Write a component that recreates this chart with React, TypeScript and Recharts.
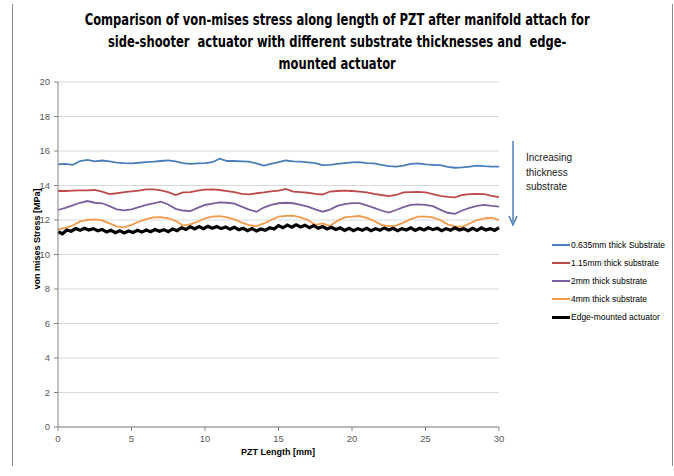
import { LineChart, Line, XAxis, YAxis, CartesianGrid } from "recharts"

// positions along the PZT in mm (0.5 mm steps for the substrate runs)
const xMm = [
  0, 0.5, 1, 1.5, 2, 2.5, 3, 3.5, 4, 4.5, 5, 5.5, 6, 6.5, 7, 7.5, 8, 8.5, 9, 9.5,
  10, 10.5, 11, 11.5, 12, 12.5, 13, 13.5, 14, 14.5, 15, 15.5, 16, 16.5, 17, 17.5, 18, 18.5, 19, 19.5,
  20, 20.5, 21, 21.5, 22, 22.5, 23, 23.5, 24, 24.5, 25, 25.5, 26, 26.5, 27, 27.5, 28, 28.5, 29, 29.5, 30,
]

const sub0635 = [
  15.22, 15.25, 15.2, 15.42, 15.48, 15.4, 15.45, 15.4, 15.33, 15.3, 15.28, 15.32, 15.36, 15.38, 15.42, 15.46, 15.4, 15.3, 15.25, 15.28,
  15.3, 15.35, 15.55, 15.42, 15.42, 15.4, 15.38, 15.28, 15.15, 15.25, 15.35, 15.45, 15.4, 15.38, 15.34, 15.3, 15.18, 15.2, 15.25, 15.3,
  15.34, 15.36, 15.3, 15.28, 15.2, 15.12, 15.1, 15.15, 15.25, 15.28, 15.22, 15.2, 15.18, 15.08, 15.03, 15.05, 15.1, 15.15, 15.12, 15.1, 15.09,
]
const sub115 = [
  13.68, 13.68, 13.7, 13.72, 13.72, 13.74, 13.65, 13.5, 13.55, 13.62, 13.66, 13.7, 13.78, 13.78, 13.72, 13.62, 13.45, 13.6, 13.62, 13.7,
  13.76, 13.78, 13.74, 13.68, 13.62, 13.52, 13.49, 13.55, 13.6, 13.66, 13.7, 13.8, 13.65, 13.62, 13.58, 13.52, 13.48, 13.65, 13.68, 13.7,
  13.68, 13.64, 13.6, 13.52, 13.45, 13.39, 13.45, 13.6, 13.62, 13.63, 13.6, 13.5, 13.4, 13.34, 13.31, 13.45, 13.5, 13.52, 13.5, 13.4, 13.32,
]
const sub2 = [
  12.58, 12.7, 12.85, 13.0, 13.1, 13.0, 12.97, 12.8, 12.62, 12.56, 12.62, 12.75, 12.88, 12.97, 13.06, 12.9, 12.65, 12.55, 12.52, 12.7,
  12.87, 12.95, 13.02, 13.0, 12.95, 12.78, 12.6, 12.48, 12.72, 12.88, 12.97, 13.0, 12.97, 12.88, 12.77, 12.62, 12.48, 12.6, 12.82, 12.92,
  12.98, 12.98, 12.85, 12.7, 12.55, 12.43, 12.58, 12.75, 12.88, 12.9, 12.88, 12.8, 12.6, 12.42, 12.36, 12.55, 12.7, 12.82, 12.88, 12.82, 12.77,
]
const sub4 = [
  11.46, 11.55, 11.68, 11.92, 12.0, 12.04, 11.98, 11.8, 11.63, 11.57, 11.72, 11.9, 12.05, 12.15, 12.17, 12.1, 11.95, 11.68, 11.75, 11.9,
  12.1, 12.2, 12.23, 12.15, 12.04, 11.85, 11.7, 11.65, 11.8, 12.0, 12.19, 12.24, 12.25, 12.15, 12.0, 11.72, 11.8, 11.65, 11.95, 12.15,
  12.2, 12.23, 12.12, 11.95, 11.72, 11.65, 11.67, 11.85, 12.05, 12.19, 12.2, 12.15, 12.0, 11.75, 11.63, 11.6, 11.8, 12.0, 12.1, 12.13, 12.0,
]

// edge-mounted run is sampled finer (0.3 mm)
const edgeStep = 0.3
const edgeMounted = [
  11.32, 11.2, 11.42, 11.35, 11.5, 11.4, 11.52, 11.42, 11.5, 11.38, 11.45, 11.3, 11.4, 11.26, 11.38, 11.25, 11.36, 11.28, 11.4, 11.3,
  11.42, 11.32, 11.45, 11.35, 11.44, 11.32, 11.48, 11.38, 11.55, 11.45, 11.6, 11.48, 11.62, 11.5, 11.64, 11.52, 11.62, 11.5, 11.6, 11.46,
  11.58, 11.44, 11.52, 11.38, 11.5, 11.36, 11.48, 11.4, 11.55, 11.48, 11.68, 11.55, 11.7, 11.58, 11.72, 11.6, 11.7, 11.56, 11.68, 11.52,
  11.62, 11.48, 11.58, 11.45, 11.55, 11.4, 11.52, 11.38, 11.5, 11.4, 11.52, 11.38, 11.5, 11.4, 11.54, 11.42, 11.52, 11.38, 11.5, 11.42,
  11.55, 11.4, 11.52, 11.42, 11.55, 11.44, 11.52, 11.38, 11.5, 11.4, 11.55, 11.42, 11.5, 11.38, 11.52, 11.4, 11.55, 11.42, 11.5, 11.4,
  11.56,
]

const yTicks = [0, 2, 4, 6, 8, 10, 12, 14, 16, 18, 20]
const xTicks = [0, 5, 10, 15, 20, 25, 30]

const series = [
  { key: "s0635", name: "0.635mm thick Substrate", color: "#4a7ebb", width: 1.8 },
  { key: "s115", name: "1.15mm thick substrate", color: "#be4b48", width: 1.8 },
  { key: "s2", name: "2mm thick substrate", color: "#7d5fa0", width: 1.8 },
  { key: "s4", name: "4mm thick substrate", color: "#f59a4a", width: 1.8 },
  { key: "edge", name: "Edge-mounted actuator", color: "#000000", width: 3.2 },
]

const substrateData = xMm.map((x, i) => ({
  x,
  s0635: sub0635[i],
  s115: sub115[i],
  s2: sub2[i],
  s4: sub4[i],
}))
const edgeData = edgeMounted.map((v, i) => ({ x: +(i * edgeStep).toFixed(2), edge: v }))

const font = '"Liberation Sans", Arial, sans-serif'
const narrow = '"Liberation Sans Narrow", "DejaVu Sans Condensed", "Liberation Sans", sans-serif'
const tickStyle = { fontSize: 9.5, fill: "#595959", fontFamily: font }

export default function App() {
  return (
    <div style={{ position: "absolute", left: 0, top: 0, width: 674, height: 476, background: "#fff", overflow: "hidden" }}>
      <div style={{ position: "absolute", left: 12, top: 4, width: 659, height: 462, borderLeft: "1px solid #8a8a8a", borderRight: "1px solid #8a8a8a" }} />
      <div
        style={{
          position: "absolute", left: 0, top: 9, width: 674, textAlign: "center",
          fontFamily: narrow, fontWeight: "bold", fontSize: 15, lineHeight: "22px", color: "#000",
          transform: "scaleX(0.855)", transformOrigin: "338px 0",
        }}
      >
        Comparison of von-mises stress along length of PZT after manifold attach for
        <br />
        side-shooter&nbsp; actuator with different substrate thicknesses and&nbsp; edge-
        <br />
        mounted actuator
      </div>

      <div style={{ position: "absolute", left: 0, top: 0 }}>
        <LineChart width={674} height={476} margin={{ top: 82, right: 175, bottom: 19, left: 0 }}>
          <CartesianGrid vertical={false} stroke="#d9d9d9" />
          <XAxis
            type="number"
            dataKey="x"
            domain={[0, 30]}
            ticks={xTicks}
            height={30}
            tick={tickStyle}
            tickSize={4}
            tickMargin={4}
            stroke="#868686"
            allowDuplicatedCategory={false}
          />
          <YAxis
            type="number"
            domain={[0, 20]}
            ticks={yTicks}
            width={58}
            tick={tickStyle}
            tickSize={4}
            tickMargin={4}
            stroke="#868686"
          />
          {series.slice(0, 4).map((s) => (
            <Line
              key={s.key}
              data={substrateData}
              dataKey={s.key}
              name={s.name}
              type="linear"
              stroke={s.color}
              strokeWidth={s.width}
              dot={false}
              isAnimationActive={false}
            />
          ))}
          <Line
            data={edgeData}
            dataKey="edge"
            name={series[4].name}
            type="linear"
            stroke={series[4].color}
            strokeWidth={series[4].width}
            dot={false}
            isAnimationActive={false}
          />
        </LineChart>
      </div>

      <div
        style={{
          position: "absolute", left: 37 - 70, top: 239 - 6, width: 140, textAlign: "center",
          transform: "rotate(-90deg)", fontFamily: font, fontWeight: "bold", fontSize: 9, lineHeight: "12px",
        }}
      >
        von mises Stress [MPa]
      </div>
      <div
        style={{
          position: "absolute", left: 208, top: 446, width: 140, textAlign: "center",
          fontFamily: font, fontWeight: "bold", fontSize: 9, lineHeight: "12px",
        }}
      >
        PZT Length [mm]
      </div>

      <div style={{ position: "absolute", left: 552, top: 236 }}>
        {series.map((s) => (
          <div key={s.key} style={{ display: "flex", alignItems: "center", height: 18 }}>
            <div style={{ width: 18, height: s.key === "edge" ? 3 : 2, background: s.color }} />
            <span style={{ marginLeft: 1, fontFamily: font, fontSize: 8.5, color: "#000" }}>{s.name}</span>
          </div>
        ))}
      </div>

      <svg style={{ position: "absolute", left: 0, top: 0 }} width={674} height={476}>
        <line x1={513} y1={141} x2={513} y2={222} stroke="#4a7ebb" strokeWidth={1.5} />
        <path d="M509,216 L513,225 L517,216" fill="none" stroke="#4a7ebb" strokeWidth={1.5} />
      </svg>
      <div
        style={{
          position: "absolute", left: 526, top: 151, fontFamily: font, fontSize: 10,
          lineHeight: "14.5px", color: "#1a1a1a",
        }}
      >
        Increasing
        <br />
        thickness
        <br />
        substrate
      </div>
    </div>
  )
}
